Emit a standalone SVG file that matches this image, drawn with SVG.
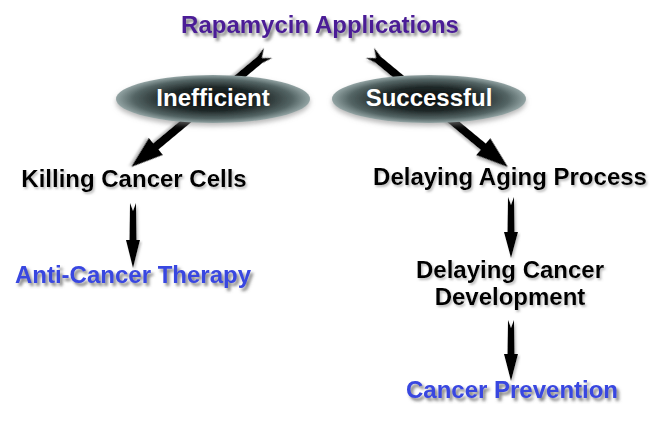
<svg xmlns="http://www.w3.org/2000/svg" width="663" height="422" viewBox="0 0 663 422">
<style>
.t{font-family:"Liberation Sans",Arial,sans-serif;font-weight:bold;font-size:24px;text-anchor:middle}
.title{fill:#4b1d96;filter:url(#sh)}
.blk{fill:#000;filter:url(#sh2)}
.blue{fill:#3846e0;filter:url(#sh)}
.wht{fill:#fff}
.arr{fill:#000;filter:url(#sh2)}
.ell{fill:url(#eg);filter:url(#esh)}
</style>
<defs>
<filter id="sh" x="-10%" y="-30%" width="130%" height="180%">
<feDropShadow dx="2.5" dy="3" stdDeviation="1.6" flood-color="#555" flood-opacity="0.75"/>
</filter>
<filter id="sh2" x="-10%" y="-30%" width="130%" height="180%">
<feDropShadow dx="1.5" dy="2" stdDeviation="1.2" flood-color="#777" flood-opacity="0.5"/>
</filter>
<filter id="esh" x="-20%" y="-40%" width="140%" height="200%">
<feDropShadow dx="0" dy="3" stdDeviation="2.5" flood-color="#888" flood-opacity="0.6"/>
</filter>
<radialGradient id="eg" cx="50%" cy="50%" r="50%">
<stop offset="0" stop-color="#0a0d0d"/>
<stop offset="0.5" stop-color="#1f2828"/>
<stop offset="0.82" stop-color="#546565"/>
<stop offset="1" stop-color="#93a4a4"/>
</radialGradient>
</defs>
<g id="connectors">
<path class="arr" transform="translate(268,53) rotate(140.2)" d="M0,-6.5 L11,-4 L146,-4 L146,-11 L178,0 L146,11 L146,4 L11,4 L0,6.5 L8,0 Z"/>
<path class="arr" transform="translate(370,53) rotate(39.6)" d="M0,-6.5 L11,-4 L147,-4 L147,-11 L179,0 L147,11 L147,4 L11,4 L0,6.5 L8,0 Z"/>
<path class="arr" d="M130,203 L133,211 L136,203 L136.5,240 L140,240 L133,268 L126,240 L129.5,240 Z"/>
<path class="arr" d="M508,197 L511,205 L514,197 L514.5,232 L518,232 L511,258 L504,232 L507.5,232 Z"/>
<path class="arr" d="M508,320 L511,328 L514,320 L514.5,354 L518,354 L511,381 L504,354 L507.5,354 Z"/>
</g>
<g id="title"><text class="t title" x="320" y="33">Rapamycin Applications</text></g>
<g id="inefficient">
<ellipse class="ell" cx="213" cy="99" rx="97" ry="24"/>
<text class="t wht" x="213" y="106">Inefficient</text>
</g>
<g id="successful">
<ellipse class="ell" cx="429" cy="99" rx="97" ry="24"/>
<text class="t wht" x="429" y="106">Successful</text>
</g>
<g id="killing"><text class="t blk" x="134" y="187">Killing Cancer Cells</text></g>
<g id="therapy"><text class="t blue" x="133" y="283">Anti-Cancer Therapy</text></g>
<g id="aging"><text class="t blk" x="510" y="185">Delaying Aging Process</text></g>
<g id="development"><text class="t blk" x="510" y="278">Delaying Cancer</text><text class="t blk" x="510" y="305">Development</text></g>
<g id="prevention"><text class="t blue" x="512" y="398">Cancer Prevention</text></g>
</svg>
